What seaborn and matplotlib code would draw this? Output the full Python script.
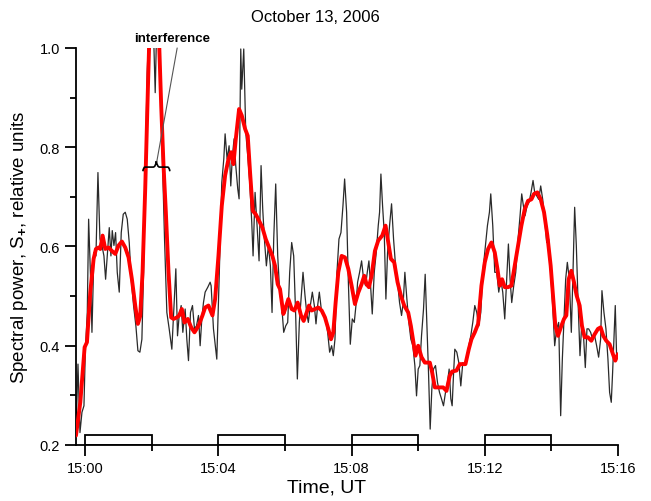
import numpy as np
import pandas as pd
import matplotlib
matplotlib.use("Agg")
import matplotlib.pyplot as plt
from matplotlib.path import Path
from matplotlib.patches import PathPatch
import seaborn as sns

# Raw spectral power samples (minutes after 15:00 UT)
raw_t = [-0.28, -0.22, -0.16, -0.10, -0.04, 0.00, 0.06, 0.10, 0.16, 0.20, 0.26, 0.32, 0.38, 0.44, 0.50,
         0.56, 0.61, 0.66, 0.72, 0.77, 0.81, 0.86, 0.91, 0.96, 1.02, 1.08, 1.14, 1.20, 1.26, 1.32,
         1.38, 1.45, 1.52, 1.58, 1.64, 1.70, 1.75, 1.80, 1.86, 1.92, 2.00, 2.10, 2.16, 2.22, 2.30,
         2.38, 2.45, 2.52, 2.60, 2.66, 2.72, 2.77, 2.82, 2.88, 2.93, 3.00, 3.05, 3.10, 3.16, 3.22,
         3.28, 3.34, 3.40, 3.45, 3.50, 3.55, 3.60, 3.68, 3.75, 3.78, 3.85, 3.95, 4.02, 4.10, 4.16,
         4.20, 4.26, 4.32, 4.37, 4.42, 4.47, 4.52, 4.58, 4.62, 4.67, 4.70, 4.76, 4.82, 4.88, 4.94,
         5.00, 5.04, 5.10, 5.16, 5.22, 5.28, 5.33, 5.38, 5.44, 5.50, 5.56, 5.61, 5.66, 5.72, 5.78,
         5.84, 5.90, 5.96, 6.02, 6.08, 6.14, 6.20, 6.26, 6.32, 6.37, 6.43, 6.48, 6.54, 6.60, 6.65,
         6.70, 6.76, 6.82, 6.88, 6.93, 6.98, 7.03, 7.10, 7.16, 7.22, 7.28, 7.34, 7.40, 7.45, 7.50,
         7.56, 7.62, 7.68, 7.74, 7.79, 7.85, 7.90, 7.96, 8.02, 8.08, 8.13, 8.18, 8.24, 8.30, 8.36,
         8.42, 8.47, 8.52, 8.57, 8.62, 8.68, 8.74, 8.80, 8.84, 8.88, 8.93, 8.98, 9.03, 9.08, 9.14,
         9.20, 9.26, 9.32, 9.38, 9.44, 9.50, 9.55, 9.60, 9.66, 9.72, 9.78, 9.84, 9.90, 9.95, 10.00,
         10.05, 10.10, 10.16, 10.21, 10.26, 10.31, 10.36, 10.41, 10.46, 10.52, 10.58, 10.64, 10.70, 10.76, 10.82,
         10.88, 10.93, 10.98, 11.02, 11.06, 11.10, 11.16, 11.22, 11.28, 11.34, 11.40, 11.46, 11.52, 11.58, 11.64,
         11.70, 11.76, 11.82, 11.88, 11.94, 12.02, 12.08, 12.14, 12.18, 12.24, 12.30, 12.36, 12.42, 12.48, 12.54,
         12.60, 12.66, 12.71, 12.76, 12.81, 12.87, 12.93, 13.00, 13.06, 13.11, 13.16, 13.21, 13.27, 13.33, 13.39,
         13.45, 13.50, 13.56, 13.62, 13.68, 13.74, 13.80, 13.86, 13.92, 13.98, 14.04, 14.10, 14.16, 14.22, 14.28,
         14.33, 14.38, 14.43, 14.48, 14.54, 14.60, 14.65, 14.70, 14.75, 14.80, 14.86, 14.91, 14.96, 15.02, 15.07,
         15.12, 15.18, 15.24, 15.30, 15.36, 15.42, 15.48, 15.52, 15.58, 15.64, 15.70, 15.75, 15.80, 15.84, 15.88,
         15.92, 15.96]
raw_s = [0.222, 0.363, 0.225, 0.266, 0.279, 0.387, 0.467, 0.655, 0.534, 0.427, 0.588, 0.581, 0.749, 0.615, 0.602,
         0.581, 0.534, 0.581, 0.638, 0.581, 0.632, 0.602, 0.628, 0.548, 0.508, 0.628, 0.665, 0.669, 0.655, 0.608,
         0.534, 0.481, 0.440, 0.390, 0.387, 0.413, 0.548, 0.749, 0.951, 1.060, 1.150, 0.910, 1.090, 1.050, 0.817,
         0.615, 0.467, 0.434, 0.393, 0.474, 0.555, 0.420, 0.461, 0.481, 0.427, 0.474, 0.413, 0.370, 0.467, 0.481,
         0.434, 0.440, 0.461, 0.400, 0.454, 0.487, 0.508, 0.518, 0.528, 0.521, 0.434, 0.373, 0.534, 0.729, 0.776,
         0.827, 0.776, 0.803, 0.722, 0.783, 0.817, 0.763, 0.716, 0.696, 0.998, 0.917, 0.998, 0.830, 0.783, 0.729,
         0.649, 0.581, 0.709, 0.642, 0.571, 0.763, 0.675, 0.615, 0.561, 0.602, 0.561, 0.467, 0.615, 0.726, 0.581,
         0.508, 0.481, 0.427, 0.440, 0.447, 0.548, 0.608, 0.581, 0.461, 0.333, 0.447, 0.494, 0.548, 0.501, 0.467,
         0.447, 0.481, 0.508, 0.481, 0.444, 0.481, 0.508, 0.467, 0.461, 0.454, 0.427, 0.387, 0.400, 0.380, 0.413,
         0.548, 0.615, 0.628, 0.682, 0.736, 0.669, 0.534, 0.403, 0.454, 0.447, 0.481, 0.528, 0.548, 0.571, 0.534,
         0.521, 0.548, 0.571, 0.521, 0.464, 0.548, 0.588, 0.642, 0.669, 0.746, 0.682, 0.628, 0.494, 0.588, 0.642,
         0.686, 0.615, 0.561, 0.528, 0.487, 0.461, 0.487, 0.548, 0.494, 0.447, 0.413, 0.400, 0.360, 0.299, 0.353,
         0.360, 0.420, 0.474, 0.544, 0.447, 0.346, 0.232, 0.313, 0.353, 0.360, 0.326, 0.306, 0.293, 0.279, 0.306,
         0.326, 0.353, 0.293, 0.279, 0.340, 0.393, 0.387, 0.366, 0.319, 0.366, 0.360, 0.373, 0.400, 0.420, 0.447,
         0.481, 0.467, 0.440, 0.467, 0.548, 0.602, 0.642, 0.669, 0.706, 0.642, 0.548, 0.548, 0.508, 0.534, 0.508,
         0.454, 0.534, 0.605, 0.534, 0.487, 0.521, 0.548, 0.615, 0.662, 0.706, 0.682, 0.662, 0.682, 0.689, 0.709,
         0.733, 0.709, 0.702, 0.695, 0.722, 0.695, 0.655, 0.608, 0.615, 0.548, 0.481, 0.400, 0.434, 0.447, 0.259,
         0.373, 0.454, 0.534, 0.568, 0.534, 0.427, 0.548, 0.679, 0.602, 0.494, 0.380, 0.440, 0.427, 0.356, 0.434,
         0.434, 0.427, 0.413, 0.420, 0.400, 0.377, 0.413, 0.511, 0.467, 0.434, 0.373, 0.306, 0.286, 0.346, 0.413,
         0.481, 0.380]

# Smoothed spectral power
smooth_t = [-0.28, -0.15, -0.02, 0.05, 0.15, 0.25, 0.32, 0.40, 0.45, 0.52, 0.60, 0.70, 0.80, 0.90, 1.00,
            1.10, 1.20, 1.30, 1.40, 1.50, 1.58, 1.65, 1.72, 1.80, 1.88, 1.95, 2.05, 2.15, 2.22, 2.28,
            2.35, 2.42, 2.50, 2.58, 2.65, 2.75, 2.82, 2.90, 2.98, 3.08, 3.18, 3.28, 3.40, 3.52, 3.60,
            3.70, 3.82, 3.90, 4.00, 4.10, 4.20, 4.30, 4.38, 4.45, 4.52, 4.62, 4.70, 4.80, 4.88, 4.95,
            5.03, 5.12, 5.22, 5.32, 5.42, 5.52, 5.62, 5.70, 5.78, 5.85, 5.95, 6.02, 6.10, 6.20, 6.28,
            6.38, 6.48, 6.56, 6.65, 6.72, 6.80, 6.90, 7.00, 7.10, 7.20, 7.30, 7.38, 7.45, 7.52, 7.60,
            7.70, 7.80, 7.90, 8.00, 8.10, 8.20, 8.30, 8.38, 8.45, 8.52, 8.60, 8.70, 8.80, 8.92, 9.02,
            9.10, 9.18, 9.28, 9.38, 9.48, 9.58, 9.70, 9.78, 9.85, 9.92, 10.00, 10.10, 10.20, 10.35, 10.42,
            10.50, 10.62, 10.75, 10.85, 10.95, 11.02, 11.15, 11.25, 11.35, 11.42, 11.52, 11.60, 11.70, 11.80, 11.90,
            12.00, 12.10, 12.20, 12.30, 12.38, 12.45, 12.52, 12.60, 12.70, 12.80, 12.90, 13.00, 13.10, 13.20, 13.30,
            13.40, 13.48, 13.58, 13.68, 13.78, 13.88, 13.98, 14.05, 14.12, 14.20, 14.30, 14.38, 14.45, 14.52, 14.60,
            14.68, 14.76, 14.85, 14.92, 15.00, 15.10, 15.20, 15.30, 15.40, 15.48, 15.56, 15.65, 15.75, 15.85, 15.92,
            16.00]
smooth_s = [0.219, 0.286, 0.397, 0.407, 0.508, 0.575, 0.595, 0.598, 0.595, 0.622, 0.595, 0.598, 0.591, 0.585, 0.602,
            0.610, 0.598, 0.578, 0.534, 0.481, 0.444, 0.460, 0.548, 0.716, 0.917, 1.080, 1.200, 1.150, 1.010, 0.884,
            0.763, 0.669, 0.548, 0.457, 0.454, 0.457, 0.461, 0.474, 0.447, 0.454, 0.437, 0.427, 0.440, 0.461, 0.477,
            0.481, 0.461, 0.494, 0.581, 0.682, 0.743, 0.776, 0.790, 0.766, 0.816, 0.877, 0.864, 0.837, 0.823, 0.749,
            0.672, 0.665, 0.652, 0.638, 0.615, 0.598, 0.581, 0.561, 0.524, 0.514, 0.464, 0.477, 0.494, 0.474, 0.471,
            0.487, 0.461, 0.450, 0.467, 0.481, 0.471, 0.474, 0.477, 0.471, 0.457, 0.434, 0.413, 0.427, 0.487, 0.548,
            0.581, 0.578, 0.555, 0.521, 0.484, 0.507, 0.524, 0.541, 0.524, 0.518, 0.541, 0.591, 0.612, 0.622, 0.642,
            0.608, 0.575, 0.568, 0.528, 0.501, 0.481, 0.467, 0.440, 0.410, 0.380, 0.400, 0.377, 0.366, 0.366, 0.346,
            0.316, 0.316, 0.316, 0.309, 0.340, 0.348, 0.350, 0.363, 0.363, 0.363, 0.393, 0.413, 0.427, 0.444, 0.521,
            0.568, 0.595, 0.608, 0.588, 0.555, 0.521, 0.534, 0.518, 0.518, 0.521, 0.561, 0.602, 0.642, 0.675, 0.692,
            0.695, 0.706, 0.709, 0.695, 0.669, 0.622, 0.561, 0.501, 0.440, 0.420, 0.440, 0.454, 0.461, 0.534, 0.551,
            0.528, 0.501, 0.481, 0.440, 0.417, 0.417, 0.410, 0.423, 0.434, 0.437, 0.420, 0.410, 0.403, 0.383, 0.370,
            0.383]

# Observation intervals marked along the time axis (minutes)
interval_start = [0, 4, 8, 12]
interval_len = [2, 2, 2, 2]

tick_minutes = [0, 4, 8, 12, 16]
tick_labels = ["15:00", "15:04", "15:08", "15:12", "15:16"]

sns.set_theme(style="ticks")
plt.rcParams["font.family"] = ["Liberation Sans", "DejaVu Sans"]
plt.rcParams["mathtext.fontset"] = "custom"
plt.rcParams["mathtext.rm"] = "Liberation Sans"
plt.rcParams["mathtext.bf"] = "Liberation Sans:bold"
plt.rcParams["text.color"] = "black"
plt.rcParams["axes.labelcolor"] = "black"

fig = plt.figure(figsize=(6.51, 5.02), dpi=100)
ax = fig.add_axes([0.1167, 0.1116, 0.8325, 0.7908])

raw = pd.DataFrame({"t": raw_t, "s": raw_s})
smooth = pd.DataFrame({"t": smooth_t, "s": smooth_s})

sns.lineplot(data=raw, x="t", y="s", ax=ax, color="#2a2a2a", lw=0.9,
             estimator=None, sort=False, zorder=2)
sns.lineplot(data=smooth, x="t", y="s", ax=ax, color="#ff0000", lw=2.8,
             estimator=None, sort=False, zorder=3)

# Interval brackets sitting on the time axis
ax.bar(interval_start, [0.021] * len(interval_start), width=interval_len,
       bottom=0.2, align="edge", fill=False, edgecolor="black", lw=1.3, zorder=4)

ax.set_xlim(-0.28, 16.0)
ax.set_ylim(0.2, 1.0)

ax.set_xticks(tick_minutes)
ax.set_xticklabels(tick_labels)
ax.set_xticks([2, 6, 10, 14], minor=True)
ax.set_yticks([0.2, 0.4, 0.6, 0.8, 1.0])
ax.set_yticklabels(["0.2", "0.4", "0.6", "0.8", "1.0"])
ax.set_yticks([0.3, 0.5, 0.7, 0.9], minor=True)
ax.tick_params(which="major", length=8, width=1.3, labelsize=10.5, direction="out", colors="black")
ax.tick_params(which="minor", length=4, width=1.3, direction="out", colors="black")

for side in ("top", "right"):
    ax.spines[side].set_visible(False)
for side in ("left", "bottom"):
    ax.spines[side].set_linewidth(1.3)
    ax.spines[side].set_color("black")

ax.set_xlabel("Time, UT", fontsize=14, color="black")
ax.set_ylabel(r"Spectral power, S$_{\mathbf{+}}$, relative units", fontsize=13.5, color="black")
ax.xaxis.set_label_coords(0.463, -0.085)
ax.yaxis.set_label_coords(-0.085, 0.5)

fig.text(0.485, 0.965, "October 13, 2006", ha="center", va="center", fontsize=12, color="black")

# Curly brace under the interference burst with a leader to its label
bx0, bx1, by, bd = 1.73, 2.54, 0.76, 0.012
bm = 0.5 * (bx0 + bx1)
w = bx1 - bx0
verts = [(bx0, by - bd * 0.7), (bx0 + 0.02 * w, by), (bx0 + 0.08 * w, by),
         (bm - 0.12 * w, by), (bm - 0.03 * w, by), (bm, by + bd),
         (bm + 0.03 * w, by), (bm + 0.12 * w, by),
         (bx1 - 0.08 * w, by), (bx1 - 0.02 * w, by), (bx1, by - bd * 0.7)]
codes = [Path.MOVETO, Path.CURVE3, Path.CURVE3, Path.LINETO, Path.CURVE3, Path.CURVE3,
         Path.CURVE3, Path.CURVE3, Path.LINETO, Path.CURVE3, Path.CURVE3]
ax.add_patch(PathPatch(Path(verts, codes), fill=False, lw=1.2, color="black", zorder=5))
ax.plot([2.15, 2.76], [0.772, 1.0], color="#555555", lw=0.8, clip_on=False, zorder=5)
ax.text(2.6, 1.008, "interference", ha="center", va="bottom", fontsize=9.5,
        fontweight="bold", clip_on=False, color="black")

fig.savefig("out.png", dpi=100, facecolor="white")
